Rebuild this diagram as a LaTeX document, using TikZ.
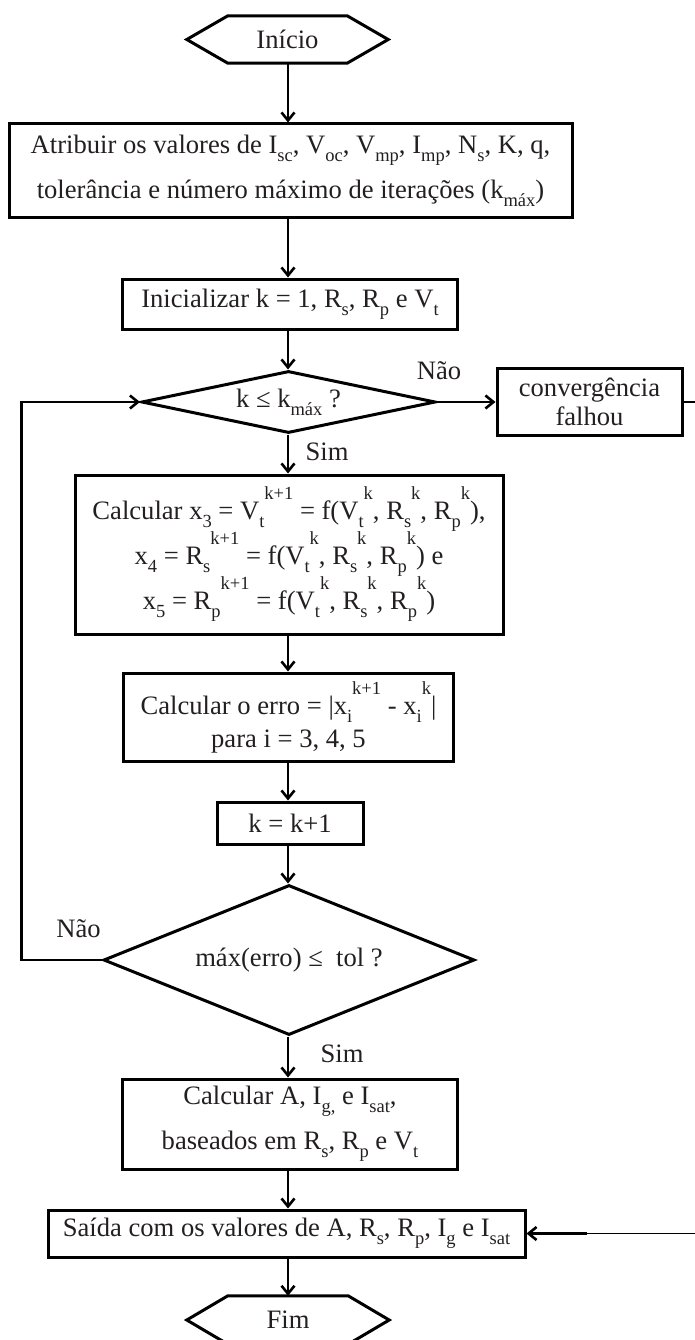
\documentclass[tikz,border=0pt]{standalone}
\usepackage{fontspec}
\setmainfont{Liberation Serif}
\usetikzlibrary{arrows.meta,shapes.geometric}
\newcommand\sbs[1]{\raisebox{-0.3em}{\fontsize{18.5}{19}\selectfont #1}}
\newcommand\sps[1]{\raisebox{0.75em}{\fontsize{18.5}{19}\selectfont #1}}
\definecolor{ink}{HTML}{231F20}
\begin{document}
\begin{tikzpicture}[x=1pt,y=-1pt,
  box/.style={draw=black, line width=3pt, inner sep=0pt, align=center, text=ink,
    font=\fontsize{26.6}{45}\selectfont},
  hexbox/.style={inner sep=0pt, text=ink, font=\fontsize{26.6}{30}\selectfont},
  dia/.style={draw=black, line width=3pt, shape=diamond, inner sep=0pt, text=ink,
    font=\fontsize{26.6}{30}\selectfont},
  lbl/.style={inner sep=0pt, text=ink, font=\fontsize{26.6}{30}\selectfont},
  arr/.style={line width=2.6pt, -{Straight Barb[length=8pt,width=13pt]}},
  hexline/.style={line width=3pt}]
\useasboundingbox (0,0) rectangle (695,1340);
\clip (0,0) rectangle (695,1340);

% start
\node[hexbox, minimum width=201pt, minimum height=47pt] (ini) at (287.5,39.5) {Início};
\draw[hexline] (ini.west) -- ([xshift=41pt]ini.north west) -- ([xshift=-41pt]ini.north east)
  -- (ini.east) -- ([xshift=-41pt]ini.south east) -- ([xshift=41pt]ini.south west) -- cycle;

\node[box, minimum width=563pt, minimum height=94pt] (b1) at (290.5,171)
  {Atribuir os valores de I\sbs{sc}, V\sbs{oc}, V\sbs{mp}, I\sbs{mp}, N\sbs{s}, K, q,\\
   tolerância e número máximo de iterações (k\sbs{máx})};

\node[box, minimum width=335pt, minimum height=50pt] (b2) at (290,304)
  {Inicializar k = 1, R\sbs{s}, R\sbs{p} e V\sbs{t}};

\node[dia, minimum width=294pt, minimum height=62pt, aspect=4.7] (d1) at (288.5,402)
  {k ≤ k\sbs{máx} ?};

\node[box, font=\fontsize{26.6}{29}\selectfont, minimum width=185pt, minimum height=67pt] (conv) at (589.5,402)
  {convergência\\falhou};

\node[box, minimum width=428pt, minimum height=159pt] (b3) at (289,554.5)
  {Calcular x\sbs{3} = V\sbs{t}\sps{k+1} = f(V\sbs{t}\sps{k}, R\sbs{s}\sps{k}, R\sbs{p}\sps{k}),\\
   x\sbs{4} = R\sbs{s}\sps{k+1} = f(V\sbs{t}\sps{k}, R\sbs{s}\sps{k}, R\sbs{p}\sps{k}) e\\
   x\sbs{5} = R\sbs{p}\sps{k+1} = f(V\sbs{t}\sps{k}, R\sbs{s}\sps{k}, R\sbs{p}\sps{k})};

\node[box, font=\fontsize{26.6}{33}\selectfont, minimum width=330pt, minimum height=88pt] (b4) at (288.5,717)
  {Calcular o erro = |x\sbs{i}\sps{k+1} - x\sbs{i}\sps{k}|\\para i = 3, 4, 5};

\node[box, minimum width=146pt, minimum height=42pt] (b5) at (290,823) {k = k+1};

\node[dia, minimum width=371pt, minimum height=150pt, aspect=2.47] (d2) at (289,960)
  {máx(erro) ≤\ \ tol ?};

\node[box, minimum width=335pt, minimum height=90pt] (b6) at (290,1124)
  {Calcular A, I\sbs{g,} e I\sbs{sat},\\baseados em R\sbs{s}, R\sbs{p} e V\sbs{t}};

\node[box, minimum width=477pt, minimum height=47pt] (b7) at (286.5,1233.5)
  {Saída com os valores de A, R\sbs{s}, R\sbs{p}, I\sbs{g} e I\sbs{sat}};

\node[hexbox, minimum width=202pt, minimum height=48pt] (fim) at (288,1320) {Fim};
\draw[hexline] (fim.west) -- ([xshift=41pt]fim.north west) -- ([xshift=-41pt]fim.north east)
  -- (fim.east) -- ([xshift=-41pt]fim.south east) -- ([xshift=41pt]fim.south west) -- cycle;

% labels
\node[lbl] (nao1) at (439,371) {Não};
\node[lbl] (sim1) at (327,452) {Sim};
\node[lbl] (nao2) at (78.5,929) {Não};
\node[lbl] (sim2) at (342,1054) {Sim};

% connectors
\coordinate (ax) at (288,0);
\draw[arr] (ini.south -| ax) -- (ax |- b1.north);
\draw[arr] (b1.south -| ax) -- (ax |- b2.north);
\draw[arr] (b2.south -| ax) -- (ax |- d1.north);
\draw[arr] (d1.east) -- (conv.west);
\draw[arr] (d1.south -| ax) -- (ax |- b3.north);
\draw[arr] (b3.south -| ax) -- (ax |- b4.north);
\draw[arr] (b4.south -| ax) -- (ax |- b5.north);
\draw[arr] (b5.south -| ax) -- (ax |- d2.north);
\draw[arr] (d2.south -| ax) -- (ax |- b6.north);
\draw[arr] (b6.south -| ax) -- (ax |- b7.north);
\draw[arr] (b7.south -| ax) -- (ax |- fim.north);

\coordinate (lp) at (21.5,0);
\draw[arr] (d2.west) -- (d2.west -| lp) -- (lp |- d1.west) -- (d1.west);

\coordinate (rc) at (705,0);
\coordinate (rb) at (587,0);
\draw[line width=1.4pt] (conv.east) -- (conv.east -| rc) -- (rc |- b7.east) -- (b7.east);
\draw[arr] (rb |- b7.east) -- (b7.east);
\end{tikzpicture}
\end{document}
